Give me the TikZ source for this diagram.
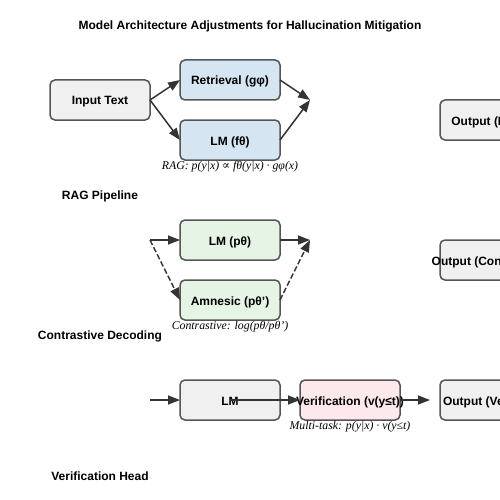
\documentclass[tikz,border=0pt]{standalone}
\usepackage{fontspec}
\setmainfont{Liberation Serif}
\setsansfont{Liberation Sans}
\newfontfamily\symbfont{DejaVu Serif}
\usetikzlibrary{arrows.meta,positioning}
\definecolor{boxgray}{HTML}{F0F0F0}
\definecolor{boxblue}{HTML}{D5E6F2}
\definecolor{boxgreen}{HTML}{E6F4E6}
\definecolor{boxpink}{HTML}{FDE8EB}
\definecolor{edgegray}{HTML}{555555}
\definecolor{arrowgray}{HTML}{333333}
\tikzset{
    %Define standard arrow tip
    >={Triangle[length=12pt,width=9pt]},
    %Define style for boxes
    block/.style={
           rectangle,
           rounded corners=5pt,
           draw=edgegray, line width=1.5pt,
           minimum width=100pt,
           minimum height=40pt,
           inner sep=0pt,
           outer sep=0pt,
           text height=10pt,
           text depth=0pt,
           font=\sffamily\bfseries\fontsize{12}{14}\selectfont,
           text centered},
    graybox/.style={block, fill=boxgray},
    bluebox/.style={block, fill=boxblue},
    greenbox/.style={block, fill=boxgreen},
    pinkbox/.style={block, fill=boxpink},
    note/.style={
           inner sep=0pt,
           font=\itshape\fontsize{11.8}{14}\selectfont},
    heading/.style={
           inner sep=0pt,
           anchor=base,
           font=\sffamily\bfseries\fontsize{12}{14}\selectfont},
    % Define arrow style
    pil/.style={
           ->,
           color=arrowgray,
           line width=1.5pt},
    dpil/.style={pil, dash pattern=on 5.5pt off 2.5pt}
}
\begin{document}
\begin{tikzpicture}[x=1pt,y=-1pt,node distance=20pt]
\useasboundingbox (0,0) rectangle (500,500);
\clip (0,0) rectangle (500,500);
\node[heading](title) at (250,30){Model Architecture Adjustments for Hallucination Mitigation};
% RAG pipeline
\node[graybox](input) at (100,100){Input Text};
\node[bluebox](retr) at (230,80){Retrieval (gφ)};
\node[bluebox, below=of retr](lmf){LM (fθ)};
\coordinate (ragjoin) at (310,100);
\node[graybox](outrag) at (490,120){Output (RAG)};
\node[note, below=1pt of lmf](ragnote){RAG: p(y|x) {\symbfont\upshape ∝} fθ(y|x) · gφ(x)};
\node[heading](raghead) at (100,199){RAG Pipeline};
\path[pil]
    (input.east) edge (retr.west) edge (lmf.west)
    (retr.east) edge (ragjoin)
    (lmf.east) edge (ragjoin);
% Contrastive decoding
\node[greenbox](lmp) at (230,240){LM (pθ)};
\node[greenbox, below=of lmp](amn){Amnesic (pθ')};
\coordinate (cdsplit) at (150,240);
\coordinate (cdjoin) at (310,240);
\node[graybox](outcd) at (490,260){\makebox[0pt]{Output (Contrastive)}};
\node[note, below=1pt of amn](cdnote){Contrastive: log(pθ/pθ')};
\node[heading](cdhead) at (100,339){Contrastive Decoding};
\path[pil] (cdsplit) edge (lmp.west) (lmp.east) edge (cdjoin);
\path[dpil] (cdsplit) edge (amn.west) (amn.east) edge (cdjoin);
% Verification head
\node[graybox](lmv) at (230,400){LM};
\node[pinkbox, right=of lmv](verif){\makebox[0pt]{Verification (v(y≤t))}};
\node[graybox](outver) at (490,400){\makebox[0pt]{Output (Verified)}};
\coordinate (vin) at (150,400);
\node[note, below=1pt of verif](vnote){Multi-task: p(y|x) · v(y≤t)};
\node[heading](vhead) at (100,480){Verification Head};
\path[pil]
    (vin) edge (lmv.west)
    (lmv.center) edge (verif.west)
    (verif.east) edge[shorten >=10pt] (outver.west);
\end{tikzpicture}
\end{document}
